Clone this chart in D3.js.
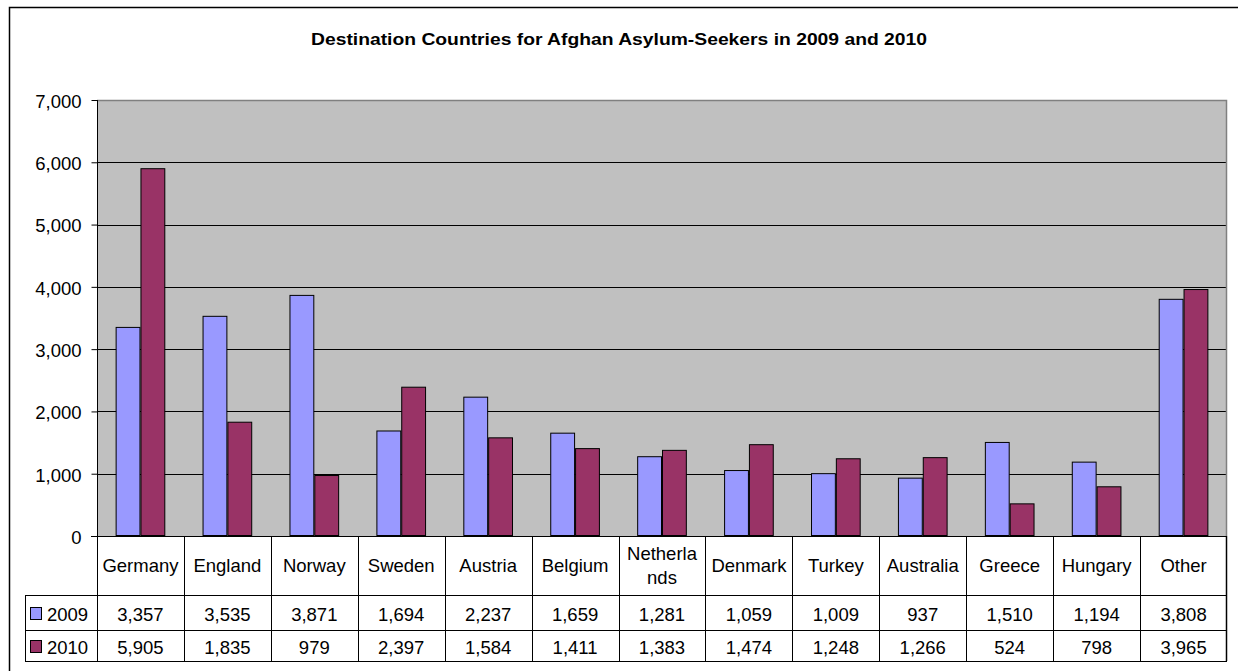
<!DOCTYPE html>
<html><head><meta charset="utf-8">
<script src="https://cdn.jsdelivr.net/npm/d3@7"></script>
<style>
html,body{margin:0;padding:0;background:#fff;}
svg{display:block;font-family:"Liberation Sans",Arial,sans-serif;}
</style></head>
<body>
<svg id="chart" width="1238" height="671"></svg>
<script>
const title = "Destination Countries for Afghan Asylum-Seekers in 2009 and 2010";
const categories = ["Germany","England","Norway","Sweden","Austria","Belgium","Netherlands","Denmark","Turkey","Australia","Greece","Hungary","Other"];
const categoryLabels = [["Germany"],["England"],["Norway"],["Sweden"],["Austria"],["Belgium"],["Netherla","nds"],["Denmark"],["Turkey"],["Australia"],["Greece"],["Hungary"],["Other"]];
const seriesNames = ["2009","2010"];
const values2009 = [3357,3535,3871,1694,2237,1659,1281,1059,1009,937,1510,1194,3808];
const values2010 = [5905,1835,979,2397,1584,1411,1383,1474,1248,1266,524,798,3965];
const seriesColors = ["#9999FF","#993366"];
const yTicks = [0,1000,2000,3000,4000,5000,6000,7000];

const series = [values2009, values2010];
const svg = d3.select("#chart");
const L = 97, R = 1227, T = 100, B = 536;
const fmt = d3.format(",");
const FS = 18.5;

// outer chart border
svg.append("rect").attr("x",9.5).attr("y",7.5).attr("width",1240).attr("height",680)
  .attr("fill","#fff").attr("stroke","#000").attr("stroke-width",1.5);

svg.append("text").attr("x",619).attr("y",45).attr("text-anchor","middle")
  .attr("font-size",17).attr("font-weight","bold").attr("textLength",616).attr("lengthAdjust","spacingAndGlyphs")
  .text(title);

const x0 = d3.scaleBand().domain(categories).range([L,R]).padding(0);
const x1 = d3.scaleBand().domain(seriesNames).range([0,x0.bandwidth()]).paddingInner(0).paddingOuter(0.75);
const y = d3.scaleLinear().domain([0,7000]).range([B,T]);

// plot area
svg.append("rect").attr("x",L).attr("y",T).attr("width",R-L).attr("height",B-T).attr("fill","#C0C0C0");

// gridlines
svg.append("g").selectAll("line").data(yTicks.filter(d=>d>0 && d<7000)).join("line")
  .attr("x1",L).attr("x2",R).attr("y1",d=>Math.round(y(d))+0.5).attr("y2",d=>Math.round(y(d))+0.5)
  .attr("stroke","#000").attr("stroke-width",1);

// plot border (top/right gray)
svg.append("path").attr("d",`M${L},${T+0.5}H${R-0.5}V${B}`).attr("fill","none").attr("stroke","#808080").attr("stroke-width",1.5);

// bars
const g = svg.append("g");
categories.forEach((c,i)=>{
  series.forEach((vals,s)=>{
    const xv = x0(c)+x1(seriesNames[s]);
    g.append("rect").attr("x",xv+0.5).attr("y",y(vals[i])+0.5)
      .attr("width",x1.bandwidth()-1).attr("height",y(0)-y(vals[i])-1)
      .attr("fill",seriesColors[s]).attr("stroke","#000").attr("stroke-width",1);
  });
});

// y axis
const yAxis = d3.axisLeft(y).tickValues(yTicks).tickSize(6).tickPadding(10).tickFormat(fmt);
const ya = svg.append("g").attr("transform",`translate(${L+0.5},0)`).call(yAxis);
ya.select(".domain").remove();
ya.append("line").attr("x1",0).attr("x2",0).attr("y1",T).attr("y2",B).attr("stroke","#000");
ya.selectAll(".tick line").attr("stroke","#000");
ya.selectAll(".tick text").attr("font-size",FS).attr("dy","0.4em").attr("font-family","Liberation Sans, Arial, sans-serif").attr("fill","#000");

// x axis line
svg.append("line").attr("x1",L-6).attr("x2",R).attr("y1",B+0.5).attr("y2",B+0.5).attr("stroke","#000");

// data table
const rowTop = 595, row1 = 630, rowBot = 661, legL = 25;
const tg = svg.append("g").attr("stroke","#000").attr("stroke-width",1);
categories.forEach((c,i)=>{
  const xx = Math.round(x0(c))+0.5;
  tg.append("line").attr("x1",xx).attr("x2",xx).attr("y1",B).attr("y2",rowBot);
});
tg.append("line").attr("x1",R-0.5).attr("x2",R-0.5).attr("y1",B).attr("y2",rowBot).attr("stroke-width",1.5);
tg.append("line").attr("x1",legL+0.5).attr("x2",legL+0.5).attr("y1",rowTop).attr("y2",rowBot);
[rowTop,row1,rowBot].forEach(yy=>{
  tg.append("line").attr("x1",legL).attr("x2",R).attr("y1",yy+0.5).attr("y2",yy+0.5);
});

// category labels
categories.forEach((c,i)=>{
  const cx = x0(c)+x0.bandwidth()/2;
  const lines = categoryLabels[i];
  const t = svg.append("text").attr("text-anchor","middle").attr("font-size",FS).attr("fill","#000");
  if(lines.length===1){
    t.append("tspan").attr("x",cx).attr("y",572).text(lines[0]);
  } else {
    t.append("tspan").attr("x",cx).attr("y",559.5).text(lines[0]);
    t.append("tspan").attr("x",cx).attr("y",583.5).text(lines[1]);
  }
});

// values
const rowY = [621,654];
series.forEach((vals,s)=>{
  vals.forEach((v,i)=>{
    svg.append("text").attr("x",x0(categories[i])+x0.bandwidth()/2).attr("y",rowY[s])
      .attr("text-anchor","middle").attr("font-size",FS).attr("fill","#000").text(fmt(v));
  });
  svg.append("rect").attr("x",30.5).attr("y",rowY[s]-13.5).attr("width",11).attr("height",12)
    .attr("fill",seriesColors[s]).attr("stroke","#000");
  svg.append("text").attr("x",47).attr("y",rowY[s]).attr("font-size",FS).attr("fill","#000").text(seriesNames[s]);
});
</script>
</body></html>
